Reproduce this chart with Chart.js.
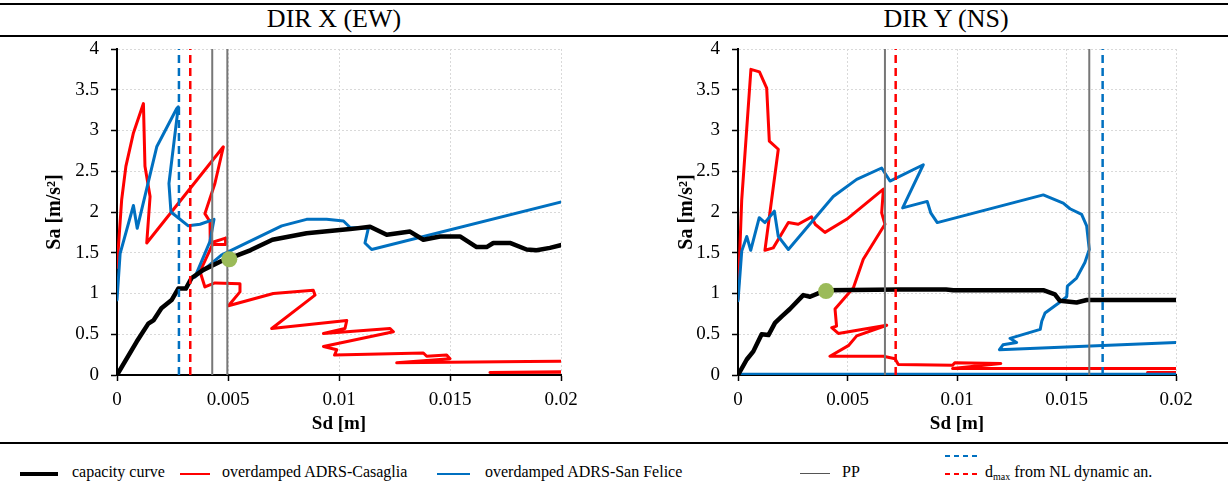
<!DOCTYPE html>
<html>
<head>
<meta charset="utf-8">
<script src="https://cdn.jsdelivr.net/npm/chart.js@4.4.1/dist/chart.umd.min.js"></script>
<style>
  body { margin: 0; width: 1228px; height: 486px; background: #fff; position: relative; overflow: hidden;
         font-family: "Liberation Serif", "Times New Roman", serif; color: #000; }
  .rule { position: absolute; left: 0; width: 1228px; height: 2px; background: #000; }
  .title { position: absolute; top: 5px; font-size: 26px; line-height: 28px; transform: translateX(-50%); white-space: nowrap; }
  .box { position: absolute; top: 40px; width: 614px; height: 400px; }
  .legend > * { position: absolute; }
  .legend .txt { top: 462px; font-size: 16px; line-height: 20px; white-space: nowrap; }
  .legend sub { font-size: 10px; vertical-align: -3px; }
</style>
</head>
<body>
<div class="rule" style="top:3px"></div>
<div class="title" style="left:334px">DIR X (EW)</div>
<div class="title" style="left:946px">DIR Y (NS)</div>
<div class="rule" style="top:35px"></div>

<div class="box" style="left:0"><canvas id="chartX" width="614" height="400"></canvas></div>
<div class="box" style="left:614px"><canvas id="chartY" width="614" height="400"></canvas></div>

<div class="rule" style="top:442px"></div>
<div class="legend">
  <div style="left:20px; top:472px; width:38px; height:4px; background:#000"></div>
  <div class="txt" style="left:72px">capacity curve</div>
  <div style="left:180px; top:473px; width:30px; height:2px; background:#ff0000"></div>
  <div class="txt" style="left:222px">overdamped ADRS-Casaglia</div>
  <div style="left:437px; top:473px; width:33px; height:2px; background:#0070c0"></div>
  <div class="txt" style="left:485px">overdamped ADRS-San Felice</div>
  <div style="left:800px; top:473px; width:30px; height:1px; background:#555"></div>
  <div class="txt" style="left:842px">PP</div>
  <div style="left:945px; top:455px; width:35px; height:2px; background:repeating-linear-gradient(to right,#0070c0 0 5px,transparent 5px 9px)"></div>
  <div style="left:945px; top:473px; width:35px; height:2px; background:repeating-linear-gradient(to right,#ff0000 0 5px,transparent 5px 9px)"></div>
  <div class="txt" style="left:985px">d<sub>max</sub> from NL dynamic an.</div>
</div>

<script>
const xTicks = [0, 0.005, 0.01, 0.015, 0.02];
const xTickLabels = ['0', '0.005', '0.01', '0.015', '0.02'];
const yTicks = [0, 0.5, 1, 1.5, 2, 2.5, 3, 3.5, 4];
const yTickLabels = ['0', '0.5', '1', '1.5', '2', '2.5', '3', '3.5', '4'];

// DIR X (EW)
const dirX_capSd = [0, 0.00089, 0.00141, 0.00164, 0.002, 0.00246, 0.00276, 0.0031, 0.00336, 0.00389, 0.00464, 0.00506, 0.006, 0.007, 0.00854, 0.0105, 0.0114, 0.01215, 0.0132, 0.0138, 0.01455, 0.01545, 0.0162, 0.01665, 0.01695, 0.0177, 0.01845, 0.0189, 0.0195, 0.0201];
const dirX_capSa = [0, 0.41, 0.63, 0.67, 0.82, 0.92, 1.06, 1.06, 1.19, 1.29, 1.39, 1.43, 1.53, 1.66, 1.74, 1.79, 1.82, 1.72, 1.76, 1.66, 1.70, 1.70, 1.57, 1.57, 1.62, 1.62, 1.54, 1.53, 1.56, 1.60];
const dirX_casSd = [0, 0.00021, 0.0004, 0.00074, 0.00119, 0.00126, 0.00149, 0.00134, 0.00479, 0.00441, 0.00396, 0.00419, 0.0042, 0.00489, 0.00489, 0.0043, 0.00374, 0.00396, 0.00441, 0.00554, 0.00554, 0.00502, 0.00704, 0.00884, 0.00892, 0.00697, 0.01035, 0.01027, 0.0093, 0.0123, 0.01245, 0.0093, 0.0099, 0.0098, 0.0138, 0.01395, 0.01485, 0.015, 0.0126, 0.0185, 0.0201, 0.023, 0.023, 0.0168, 0.023];
const dirX_casSa = [1.32, 2.15, 2.56, 2.97, 3.33, 2.56, 2.19, 1.62, 2.80, 2.35, 1.98, 1.88, 1.62, 1.68, 1.60, 1.60, 1.27, 1.08, 1.13, 1.12, 1.02, 0.85, 1.00, 1.04, 0.98, 0.57, 0.67, 0.57, 0.51, 0.57, 0.53, 0.35, 0.31, 0.245, 0.27, 0.23, 0.245, 0.20, 0.15, 0.165, 0.17, 0.14, 0.04, 0.03, 0.05];
const dirX_sfSd = [0, 0.00014, 0.00074, 0.00091, 0.00179, 0.00269, 0.00276, 0.00234, 0.00243, 0.00321, 0.00374, 0.00437, 0.00419, 0.00351, 0.0047, 0.00614, 0.00742, 0.00854, 0.00944, 0.0102, 0.0105, 0.01132, 0.01117, 0.01147, 0.0201];
const dirX_sfSa = [0.92, 1.49, 2.08, 1.80, 2.80, 3.27, 3.29, 2.35, 2.00, 1.83, 1.85, 1.91, 1.64, 1.20, 1.47, 1.66, 1.83, 1.91, 1.91, 1.89, 1.81, 1.80, 1.62, 1.54, 2.13];
const dirX_pp = [0.00429, 0.00497];
const dirX_dmaxCas = 0.0033;
const dirX_dmaxSf = 0.00279;
const dirX_point = [0.00506, 1.42];

// DIR Y (NS)
const dirY_capSd = [0, 0.0004, 0.0007, 0.00108, 0.00139, 0.00169, 0.002, 0.00237, 0.00298, 0.00329, 0.00374, 0.00402, 0.0074, 0.0095, 0.00983, 0.01394, 0.01447, 0.0147, 0.01546, 0.01592, 0.0201];
const dirY_capSa = [0, 0.19, 0.29, 0.50, 0.49, 0.64, 0.72, 0.81, 0.98, 0.96, 1.01, 1.04, 1.05, 1.05, 1.04, 1.04, 0.99, 0.91, 0.89, 0.92, 0.92];
const dirY_casSd = [0, 0.00017, 0.00059, 0.00098, 0.00131, 0.00143, 0.00184, 0.00123, 0.00161, 0.0023, 0.00275, 0.00336, 0.00352, 0.00397, 0.00496, 0.00664, 0.00656, 0.00671, 0.00572, 0.00527, 0.00443, 0.0045, 0.00428, 0.00458, 0.00679, 0.00542, 0.00504, 0.0042, 0.00664, 0.00717, 0.00732, 0.0098, 0.0099, 0.012, 0.0098, 0.0201, 0.023, 0.023, 0.0187, 0.023];
const dirY_casSa = [0.93, 2.15, 3.75, 3.72, 3.52, 2.87, 2.77, 1.53, 1.56, 1.87, 1.85, 1.94, 1.85, 1.75, 1.91, 2.28, 1.99, 1.85, 1.42, 1.07, 0.81, 0.60, 0.58, 0.51, 0.61, 0.48, 0.36, 0.23, 0.23, 0.20, 0.13, 0.12, 0.15, 0.14, 0.08, 0.08, 0.07, 0.03, 0.03, 0.035];
const dirY_sfSd = [0, 0.00017, 0.0004, 0.00058, 0.00097, 0.00123, 0.00166, 0.00184, 0.0023, 0.00435, 0.00542, 0.00656, 0.00694, 0.00846, 0.00752, 0.00864, 0.0088, 0.0091, 0.01394, 0.01485, 0.01516, 0.01569, 0.01592, 0.01604, 0.01584, 0.01546, 0.01504, 0.01501, 0.01463, 0.01402, 0.01387, 0.0138, 0.01242, 0.01272, 0.0121, 0.01194, 0.0201, 0.023, 0.023, 0];
const dirY_sfSa = [0.91, 1.52, 1.70, 1.53, 1.93, 1.87, 2.01, 1.70, 1.54, 2.19, 2.40, 2.54, 2.38, 2.58, 2.05, 2.13, 1.99, 1.87, 2.21, 2.11, 2.04, 1.97, 1.83, 1.54, 1.38, 1.19, 1.09, 0.96, 0.88, 0.76, 0.66, 0.56, 0.45, 0.40, 0.37, 0.31, 0.40, 0.41, 0.01, 0.01];
const dirY_pp = [0.00671, 0.01604];
const dirY_dmaxCas = 0.0072;
const dirY_dmaxSf = 0.01665;
const dirY_point = [0.00402, 1.03];

const FONT = "'Liberation Serif', 'Times New Roman', serif";

function pts(xs, ys) {
  return xs.map((x, i) => ({ x: x, y: ys[i] }));
}
function vline(x) {
  return [{ x: x, y: 0 }, { x: x, y: 4 }];
}
function curve(data, color, width, order) {
  return { data: data, showLine: true, borderColor: color, borderWidth: width, pointRadius: 0,
           borderJoinStyle: 'round', borderCapStyle: 'round', order: order };
}

function makeChart(id, d, yWidth, padRight, yTitlePad) {
  const datasets = [
    { data: [{ x: d.point[0], y: d.point[1] }], pointRadius: 8, pointBackgroundColor: '#9bbb59',
      pointBorderWidth: 0, showLine: false, order: 0 },
    curve(vline(d.pp[0]), '#777', 2, 1),
    curve(vline(d.pp[1]), '#777', 2, 1),
    Object.assign(curve(vline(d.dmaxCas), '#ff0000', 2.5, 2), { borderDash: [8, 5], borderCapStyle: 'butt' }),
    Object.assign(curve(vline(d.dmaxSf), '#0070c0', 2.5, 2), { borderDash: [8, 5], borderCapStyle: 'butt' }),
    curve(pts(d.capSd, d.capSa), '#000', 4.5, 3),
    curve(pts(d.sfSd, d.sfSa), '#0070c0', 3, 4),
    curve(pts(d.casSd, d.casSa), '#ff0000', 3, 5)
  ];

  return new Chart(document.getElementById(id), {
    type: 'scatter',
    data: { datasets: datasets },
    options: {
      responsive: false,
      animation: false,
      layout: { padding: { left: 0, right: padRight, top: 9, bottom: 0 } },
      plugins: { legend: { display: false }, tooltip: { enabled: false } },
      scales: {
        x: {
          type: 'linear', min: 0, max: 0.02,
          afterBuildTicks: s => { s.ticks = xTicks.map(v => ({ value: v })); },
          afterFit: s => { s.height = 65; s.paddingLeft = 0; s.paddingRight = 0; },
          ticks: { autoSkip: false, maxRotation: 0, padding: 8, color: '#000',
                   font: { family: FONT, size: 19 }, callback: (v, i) => xTickLabels[i] },
          grid: { color: '#d9d9d9', tickColor: '#000', tickLength: 6, tickWidth: 1.5 },
          border: { color: '#000', width: 2, dash: [2, 2] },
          title: { display: true, text: 'Sd [m]', color: '#000',
                   font: { family: FONT, size: 19, weight: 'bold' }, padding: { top: 0, bottom: 5 } }
        },
        y: {
          type: 'linear', min: 0, max: 4,
          afterBuildTicks: s => { s.ticks = yTicks.map(v => ({ value: v })); },
          afterFit: s => { s.width = yWidth; s.paddingTop = 0; s.paddingBottom = 0; },
          ticks: { autoSkip: false, padding: 12, color: '#000',
                   font: { family: FONT, size: 19 }, callback: (v, i) => yTickLabels[i] },
          grid: { color: '#d9d9d9', tickColor: '#000', tickLength: 6, tickWidth: 1.5 },
          border: { color: '#000', width: 2, dash: [2, 2] },
          title: { display: true, text: 'Sa [m/s²]', color: '#000',
                   font: { family: FONT, size: 20, weight: 'bold' }, padding: { top: yTitlePad, bottom: 0 } }
        }
      }
    }
  });
}

makeChart('chartX', {
  capSd: dirX_capSd, capSa: dirX_capSa, casSd: dirX_casSd, casSa: dirX_casSa,
  sfSd: dirX_sfSd, sfSa: dirX_sfSa, pp: dirX_pp, dmaxCas: dirX_dmaxCas, dmaxSf: dirX_dmaxSf, point: dirX_point
}, 117, 53, 43);

makeChart('chartY', {
  capSd: dirY_capSd, capSa: dirY_capSa, casSd: dirY_casSd, casSa: dirY_casSa,
  sfSd: dirY_sfSd, sfSa: dirY_sfSa, pp: dirY_pp, dmaxCas: dirY_dmaxCas, dmaxSf: dirY_dmaxSf, point: dirY_point
}, 124, 52, 61);
</script>
</body>
</html>
